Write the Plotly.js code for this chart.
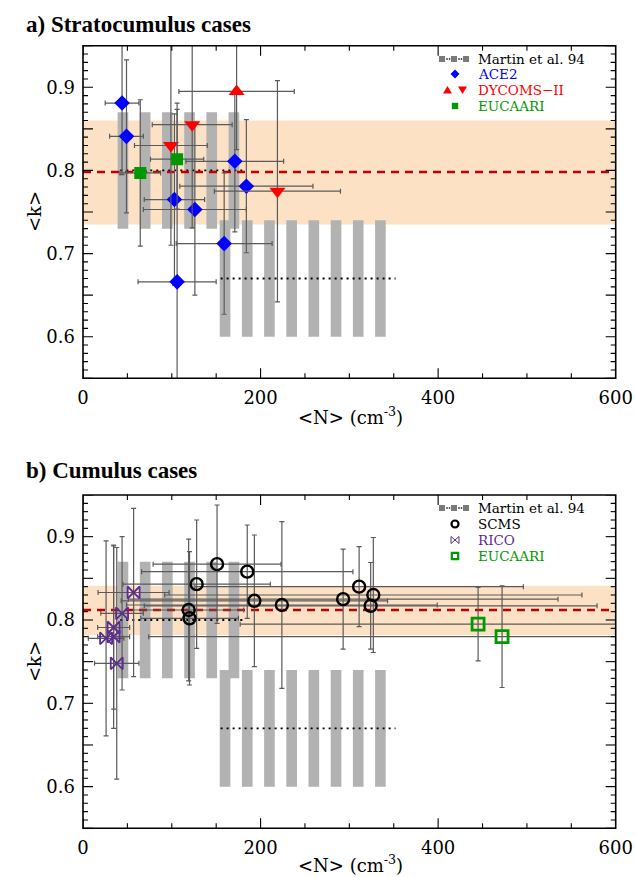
<!DOCTYPE html>
<html><head><meta charset="utf-8">
<script src="https://cdn.plot.ly/plotly-3.0.1.min.js"></script>
<style>html,body{margin:0;padding:0;background:#fff}#g{width:635px;height:877px}</style>
</head><body><div id="g"></div>
<script>
// ---------- data (panel a: stratocumulus) ----------
const aceN    = [44, 49, 171, 184, 103, 126, 159, 106];
const aceK    = [0.881, 0.841, 0.811, 0.781, 0.765, 0.753, 0.712, 0.666];
const aceNerr = [19, 19, 55, 75, 34, 58, 54, 44];
const aceKerr = [0.086, 0.092, 0.085, 0.080, 0.103, 0.103, 0.085, 0.215];

const dycUpN = [173], dycUpK = [0.895], dycUpNerr = [65], dycUpKerr = [0.07];
const dycDnN = [99, 123, 219], dycDnK = [0.830, 0.855, 0.775];
const dycDnNerr = [41, 45, 71], dycDnKerr = [0.12, 0.124, 0.133];

const eucaN = [64.5, 106], eucaK = [0.797, 0.8135];
const eucaNerr = [23, 30], eucaKerr = [0.088, 0.06];

const bandA = [0.735, 0.860], meanA = 0.798;

// ---------- data (panel b: cumulus) ----------
const scmsN    = [151, 185, 128, 193, 224, 119, 120, 293, 311, 327, 324];
const scmsK    = [0.867, 0.858, 0.843, 0.823, 0.818, 0.812, 0.802, 0.825, 0.840, 0.830, 0.817];
const scmsNerr = [72, 119, 83, 150, 175, 62, 55, 242, 185, 235, 255];
const scmsKerr = [0.071, 0.056, 0.077, 0.079, 0.10, 0.085, 0.08, 0.06, 0.048, 0.069, 0.052];

const ricoN    = [57, 44, 34.5, 26, 34.5, 38];
const ricoK    = [0.833, 0.808, 0.791, 0.778, 0.780, 0.748];
const ricoNerr = [40, 24, 18, 20, 18, 25];
const ricoKerr = [0.101, 0.092, 0.098, 0.117, 0.11, 0.139];

const eucbN = [445, 472], eucbK = [0.795, 0.780];
const eucbNerr = [268, 398], eucbKerr = [0.044, 0.061];

const bandB = [0.782, 0.841], meanB = 0.812;

// ---------- Martin et al. 94 ----------
const martinMarN = [45, 70, 95, 120, 145, 170];
const martinMarK = [0.73, 0.87];
const martinMarLine = [42, 181], martinMarMean = 0.80;
const martinConN = [160, 185, 210, 235, 260, 285, 310, 335];
const martinConK = [0.60, 0.74];
const martinConLine = [155, 352], martinConMean = 0.67;

// ---------- axis ticks ----------
const xTicks = [0, 200, 400, 600];
const xMinorStep = 50;
const yLabelTicks = [0.6, 0.7, 0.8, 0.9];
const yMajorStep = 0.05, yMinorStep = 0.01;
const xRange = [0, 600], yRange = [0.55, 0.95];

// ---------- helpers ----------
const W = 635, H = 877;
const SERIF = '"DejaVu Serif", "Liberation Serif", serif';
const TIMES = '"Liberation Serif", "Times New Roman", serif';
const EBC = '#5a5a5a';
function errs(ex, ey, extra) {
  return Object.assign({
    error_x: {type: 'data', array: ex, color: EBC, thickness: 1.2, width: 2.5},
    error_y: {type: 'data', array: ey, color: EBC, thickness: 1.2, width: 2.5}
  }, extra);
}
function martinTraces(xa, ya) {
  const t = [];
  t.push({type: 'bar', x: martinMarN, y: martinMarN.map(() => martinMarK[1] - martinMarK[0]),
    base: martinMarN.map(() => martinMarK[0]), width: 12, marker: {color: '#b2b2b2', line: {width: 0}},
    xaxis: xa, yaxis: ya, showlegend: false, hoverinfo: 'skip'});
  t.push({type: 'bar', x: martinConN, y: martinConN.map(() => martinConK[1] - martinConK[0]),
    base: martinConN.map(() => martinConK[0]), width: 12, marker: {color: '#b2b2b2', line: {width: 0}},
    xaxis: xa, yaxis: ya, showlegend: false, hoverinfo: 'skip'});
  t.push({type: 'scatter', mode: 'lines', x: martinMarLine, y: [martinMarMean, martinMarMean],
    line: {color: '#000', width: 1.8, dash: '2px,4px'}, xaxis: xa, yaxis: ya, showlegend: false});
  t.push({type: 'scatter', mode: 'lines', x: martinConLine, y: [martinConMean, martinConMean],
    line: {color: '#000', width: 1.8, dash: '2px,4px'}, xaxis: xa, yaxis: ya, showlegend: false});
  return t;
}
function meanLine(xa, ya, m) {
  return {type: 'scatter', mode: 'lines', x: [0, 600], y: [m, m],
    line: {color: '#c00000', width: 2.5, dash: '8px,6px'}, xaxis: xa, yaxis: ya, showlegend: false};
}

const traces = [];
// panel a
traces.push(...martinTraces('x', 'y'));
traces.push(meanLine('x', 'y', meanA));
traces.push(errs(aceNerr, aceKerr, {type:'scatter', mode:'markers', x: aceN, y: aceK,
  marker:{symbol:'diamond', size:12, color:'#0000ff'}, xaxis:'x', yaxis:'y', showlegend:false}));
traces.push(errs(dycUpNerr, dycUpKerr, {type:'scatter', mode:'markers', x: dycUpN, y: dycUpK,
  marker:{symbol:'triangle-up', size:14, color:'#ff0000'}, xaxis:'x', yaxis:'y', showlegend:false}));
traces.push(errs(dycDnNerr, dycDnKerr, {type:'scatter', mode:'markers', x: dycDnN, y: dycDnK,
  marker:{symbol:'triangle-down', size:14, color:'#ff0000'}, xaxis:'x', yaxis:'y', showlegend:false}));
traces.push(errs(eucaNerr, eucaKerr, {type:'scatter', mode:'markers', x: eucaN, y: eucaK,
  marker:{symbol:'square', size:12, color:'#009900'}, xaxis:'x', yaxis:'y', showlegend:false}));
// panel b
traces.push(...martinTraces('x2', 'y2'));
traces.push(meanLine('x2', 'y2', meanB));
traces.push(errs(scmsNerr, scmsKerr, {type:'scatter', mode:'markers', x: scmsN, y: scmsK,
  marker:{symbol:'circle-open', size:12, color:'#000', line:{width:2.4}}, xaxis:'x2', yaxis:'y2', showlegend:false}));
traces.push(errs(ricoNerr, ricoKerr, {type:'scatter', mode:'markers', x: ricoN, y: ricoK,
  marker:{symbol:'bowtie-open', size:12, color:'#5b2d90', line:{width:1.8}}, xaxis:'x2', yaxis:'y2', showlegend:false}));
traces.push(errs(eucbNerr, eucbKerr, {type:'scatter', mode:'markers', x: eucbN, y: eucbK,
  marker:{symbol:'square-open', size:12, color:'#009900', line:{width:2.8}}, xaxis:'x2', yaxis:'y2', showlegend:false}));

// ---------- legend (shapes + annotations in paper coords) ----------
const legA = [59, 74, 90, 106], legB = [508, 524, 540, 556];
const SX = 455;
const P = (x, y) => (x / W) + ',' + (1 - y / H);
const legShapes = [];
function pathShape(pts, fill, lineColor, lw) {
  legShapes.push({type:'path', xref:'paper', yref:'paper',
    path: 'M' + pts.map(p => P(p[0], p[1])).join('L') + 'Z',
    fillcolor: fill, line: {color: lineColor, width: lw}});
}
function rectShape(cx, cy, h, fill, lineColor, lw) {
  legShapes.push({type:'rect', xref:'paper', yref:'paper', x0:(cx-h)/W, x1:(cx+h)/W, y0:1-(cy+h)/H, y1:1-(cy-h)/H,
    fillcolor: fill, line: {color: lineColor, width: lw}});
}
function martinSym(y) {
  [442, 454, 466].forEach(x => rectShape(x, y, 3, '#7a7a7a', '#7a7a7a', 0));
  [447, 449.5, 459, 461.5].forEach(x => rectShape(x, y, 0.7, '#000', '#000', 0));
}
martinSym(legA[0]); martinSym(legB[0]);
pathShape([[SX-4.5, legA[1]], [SX, legA[1]-4.5], [SX+4.5, legA[1]], [SX, legA[1]+4.5]], '#0000ff', '#0000ff', 0);
pathShape([[443, legA[2]+3.5], [452, legA[2]+3.5], [447.5, legA[2]-4]], '#ff0000', '#ff0000', 0);
pathShape([[458, legA[2]-3.5], [467, legA[2]-3.5], [462.5, legA[2]+4]], '#ff0000', '#ff0000', 0);
rectShape(SX, legA[3], 3.2, '#009900', '#009900', 0);
legShapes.push({type:'circle', xref:'paper', yref:'paper', x0:(SX-3.5)/W, x1:(SX+3.5)/W, y0:1-(legB[1]+3.5)/H, y1:1-(legB[1]-3.5)/H,
  line:{color:'#000', width:2.2}});
pathShape([[SX-4, legB[2]-3.5], [SX+4, legB[2]+3.5], [SX+4, legB[2]-3.5], [SX-4, legB[2]+3.5]], 'rgba(0,0,0,0)', '#5b2d90', 1);
rectShape(SX, legB[3], 3.2, 'rgba(0,0,0,0)', '#009900', 2.2);

function legText(y, txt, color) {
  return {xref:'paper', yref:'paper', x: 476/W, y: 1 - y/H, xanchor:'left', yanchor:'middle',
    text: txt, showarrow:false, font:{family: SERIF, size: 13.5, color: color}};
}

// ---------- frame + inward ticks on all four sides (drawn as shapes on the axes) ----------
const plotWpx = 532.7, plotHpx = 332.6;
const MAJ = 10, MIN = 5;
function frameShapes(xa, ya) {
  const s = [];
  const xd = xa + ' domain', yd = ya + ' domain';
  const tl = {color: '#000', width: 1.1};
  // x ticks (bottom and top)
  for (let v = xRange[0]; v <= xRange[1] + 1e-9; v += xMinorStep) {
    const len = (xTicks.indexOf(v) >= 0 ? MAJ : MIN) / plotHpx;
    s.push({type:'line', xref: xa, yref: yd, x0: v, x1: v, y0: 0, y1: len, line: tl, layer:'above'});
    s.push({type:'line', xref: xa, yref: yd, x0: v, x1: v, y0: 1, y1: 1 - len, line: tl, layer:'above'});
  }
  // y ticks (left and right)
  const nMin = Math.round((yRange[1] - yRange[0]) / yMinorStep);
  const perMaj = Math.round(yMajorStep / yMinorStep);
  for (let i = 0; i <= nMin; i++) {
    const v = yRange[0] + i * yMinorStep;
    const len = (i % perMaj === 0 ? MAJ : MIN) / plotWpx;
    s.push({type:'line', xref: xd, yref: ya, x0: 0, x1: len, y0: v, y1: v, line: tl, layer:'above'});
    s.push({type:'line', xref: xd, yref: ya, x0: 1, x1: 1 - len, y0: v, y1: v, line: tl, layer:'above'});
  }
  s.push({type:'rect', xref: xd, yref: yd, x0: 0, x1: 1, y0: 0, y1: 1, line: {color:'#000', width: 1.6}, layer:'above'});
  return s;
}

// ---------- axes ----------
const dx = [83/W, 615.7/W];
const tf = {family: SERIF, size: 18, color:'#000'};
function xBottom(anchor) {
  return {domain: dx, anchor: anchor, range: xRange, tickmode:'array', tickvals: xTicks,
    ticktext: xTicks.map(String), ticks:'', showline: false, showgrid: false, zeroline: false,
    tickfont: tf, ticklabelstandoff: 7};
}
function yLeft(anchor, dom) {
  return {domain: dom, anchor: anchor, range: yRange, tickmode:'array', tickvals: yLabelTicks,
    ticktext: yLabelTicks.map(v => v.toFixed(1)), ticks:'', showline: false, showgrid: false, zeroline: false,
    tickfont: tf, ticklabelstandoff: 7};
}
const domA = [1 - 378.3/H, 1 - 45.7/H];
const domB = [1 - 828.3/H, 1 - 495/H];

const layout = {
  width: W, height: H, margin: {l:0, r:0, t:0, b:0}, paper_bgcolor:'#fff', plot_bgcolor:'#fff',
  showlegend: false, barmode: 'overlay',
  xaxis: xBottom('y'), yaxis: yLeft('x', domA),
  xaxis2: xBottom('y2'), yaxis2: yLeft('x2', domB),
  shapes: [
    {type:'rect', xref:'x', yref:'y', x0:0, x1:600, y0: bandA[0], y1: bandA[1], fillcolor:'#fde1c4', line:{width:0}, layer:'below'},
    {type:'rect', xref:'x2', yref:'y2', x0:0, x1:600, y0: bandB[0], y1: bandB[1], fillcolor:'#fde1c4', line:{width:0}, layer:'below'}
  ].concat(frameShapes('x', 'y'), frameShapes('x2', 'y2'), legShapes),
  annotations: [
    {xref:'paper', yref:'paper', x: 24/W, y: 1 - 24/H, xanchor:'left', yanchor:'middle', showarrow:false,
     text:'<b>a) Stratocumulus cases</b>', font:{family: TIMES, size: 23, color:'#000'}},
    {xref:'paper', yref:'paper', x: 24/W, y: 1 - 470/H, xanchor:'left', yanchor:'middle', showarrow:false,
     text:'<b>b) Cumulus cases</b>', font:{family: TIMES, size: 23, color:'#000'}},
    {xref:'paper', yref:'paper', x: 350/W, y: 1 - 416/H, xanchor:'center', yanchor:'middle', showarrow:false,
     text:'&lt;N&gt; (cm<sup>-3</sup>)', font:{family: SERIF, size: 18, color:'#000'}},
    {xref:'paper', yref:'paper', x: 350/W, y: 1 - 864/H, xanchor:'center', yanchor:'middle', showarrow:false,
     text:'&lt;N&gt; (cm<sup>-3</sup>)', font:{family: SERIF, size: 18, color:'#000'}},
    {xref:'paper', yref:'paper', x: 34/W, y: 1 - 212/H, xanchor:'center', yanchor:'middle', showarrow:false,
     text:'&lt;k&gt;', textangle:-90, font:{family: SERIF, size: 18, color:'#000'}},
    {xref:'paper', yref:'paper', x: 34/W, y: 1 - 662/H, xanchor:'center', yanchor:'middle', showarrow:false,
     text:'&lt;k&gt;', textangle:-90, font:{family: SERIF, size: 18, color:'#000'}},
    legText(legA[0], 'Martin et al. 94', '#000'),
    legText(legA[1], 'ACE2', '#0000ff'),
    legText(legA[2], 'DYCOMS\u2212II', '#ff0000'),
    legText(legA[3], 'EUCAARI', '#009900'),
    legText(legB[0], 'Martin et al. 94', '#000'),
    legText(legB[1], 'SCMS', '#000'),
    legText(legB[2], 'RICO', '#5b2d90'),
    legText(legB[3], 'EUCAARI', '#009900')
  ]
};
Plotly.newPlot('g', traces, layout, {staticPlot: true, displayModeBar: false});
</script></body></html>
